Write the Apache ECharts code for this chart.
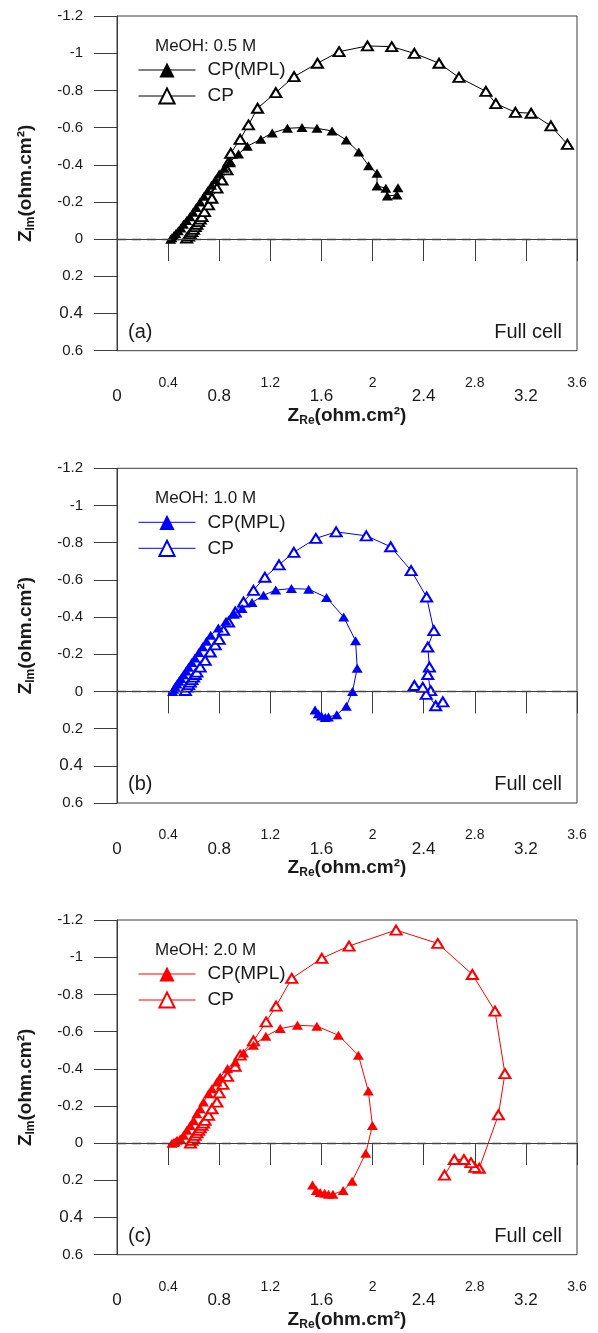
<!DOCTYPE html>
<html><head><meta charset="utf-8">
<script src="https://cdn.jsdelivr.net/npm/echarts@6/dist/echarts.min.js"></script>
<style>html,body{margin:0;padding:0;background:#fff}#c{width:598px;height:1333px}</style>
</head><body><div id="c"></div>
<script>
// ---- data ----
const xTickValues = [0, 0.4, 0.8, 1.2, 1.6, 2, 2.4, 2.8, 3.2, 3.6];
const xTickLabels = ['0', '0.4', '0.8', '1.2', '1.6', '2', '2.4', '2.8', '3.2', '3.6'];
const yTickValues = [-1.2, -1, -0.8, -0.6, -0.4, -0.2, 0, 0.2, 0.4, 0.6];
const yTickLabels = ['-1.2', '-1', '-0.8', '-0.6', '-0.4', '-0.2', '0', '0.2', '0.4', '0.6'];
const panelLabels = ['(a)', '(b)', '(c)'];
const cellLabel = 'Full cell';
const concentrations = ['MeOH: 0.5 M', 'MeOH: 1.0 M', 'MeOH: 2.0 M'];
const seriesNames = ['CP(MPL)', 'CP'];
const panelColors = ['#000000', '#0000ff', '#ff0000'];

// [Z_Re, Z_Im] in ohm.cm2
const mplA = [[0.42,0.0],[0.43,-0.008],[0.445,-0.018],[0.46,-0.03],[0.48,-0.045],[0.50,-0.06],[0.52,-0.08],[0.545,-0.10],[0.57,-0.12],[0.595,-0.145],[0.62,-0.17],[0.65,-0.20],[0.68,-0.23],[0.71,-0.26],[0.74,-0.29],[0.77,-0.32],[0.80,-0.35],[0.839,-0.381],[0.886,-0.417],[0.951,-0.458],[1.02,-0.50],[1.126,-0.537],[1.215,-0.571],[1.334,-0.596],[1.448,-0.60],[1.565,-0.596],[1.683,-0.582],[1.794,-0.533],[1.892,-0.468],[1.969,-0.395],[2.035,-0.354],[2.035,-0.286],[2.104,-0.274],[2.116,-0.232],[2.191,-0.238],[2.199,-0.277]];
const cpA = [[0.545,-0.005],[0.56,-0.017],[0.573,-0.029],[0.586,-0.040],[0.599,-0.053],[0.612,-0.067],[0.625,-0.080],[0.638,-0.094],[0.651,-0.108],[0.665,-0.121],[0.685,-0.148],[0.716,-0.184],[0.743,-0.220],[0.782,-0.274],[0.821,-0.318],[0.86,-0.372],[0.875,-0.415],[0.89,-0.462],[0.964,-0.537],[1.029,-0.614],[1.100,-0.704],[1.243,-0.788],[1.386,-0.874],[1.569,-0.946],[1.738,-1.008],[1.960,-1.039],[2.150,-1.035],[2.327,-0.999],[2.520,-0.946],[2.676,-0.870],[2.887,-0.795],[2.965,-0.729],[3.118,-0.682],[3.241,-0.677],[3.396,-0.609],[3.525,-0.510]];

const mplB = [[0.435,0.0],[0.445,-0.012],[0.455,-0.025],[0.47,-0.04],[0.485,-0.055],[0.50,-0.07],[0.52,-0.09],[0.54,-0.11],[0.56,-0.13],[0.585,-0.155],[0.61,-0.18],[0.64,-0.21],[0.67,-0.24],[0.70,-0.27],[0.733,-0.302],[0.793,-0.341],[0.853,-0.377],[0.919,-0.415],[0.979,-0.446],[1.057,-0.478],[1.147,-0.517],[1.242,-0.545],[1.365,-0.553],[1.50,-0.55],[1.64,-0.505],[1.774,-0.40],[1.867,-0.273],[1.88,-0.125],[1.843,0.0],[1.795,0.08],[1.72,0.125],[1.655,0.138],[1.63,0.14],[1.60,0.132],[1.575,0.12],[1.55,0.10]];
const cpB = [[0.535,-0.005],[0.547,-0.023],[0.56,-0.037],[0.573,-0.050],[0.586,-0.064],[0.599,-0.077],[0.612,-0.091],[0.625,-0.104],[0.651,-0.131],[0.690,-0.167],[0.730,-0.212],[0.769,-0.250],[0.800,-0.280],[0.834,-0.329],[0.873,-0.373],[0.925,-0.427],[0.990,-0.481],[1.068,-0.544],[1.157,-0.614],[1.268,-0.681],[1.384,-0.748],[1.556,-0.823],[1.715,-0.858],[1.951,-0.837],[2.142,-0.778],[2.302,-0.650],[2.423,-0.508],[2.480,-0.327],[2.432,-0.239],[2.445,-0.131],[2.432,-0.091],[2.455,-0.004],[2.42,0.016],[2.327,-0.032],[2.393,-0.022],[2.494,0.077],[2.55,0.056]];

const mplC = [[0.43,0.0],[0.445,-0.003],[0.456,-0.006],[0.47,-0.015],[0.495,-0.024],[0.521,-0.042],[0.547,-0.069],[0.573,-0.095],[0.599,-0.122],[0.625,-0.158],[0.651,-0.185],[0.677,-0.221],[0.716,-0.266],[0.743,-0.293],[0.782,-0.329],[0.808,-0.356],[0.865,-0.401],[0.925,-0.437],[0.99,-0.485],[1.068,-0.527],[1.165,-0.575],[1.277,-0.616],[1.412,-0.634],[1.564,-0.629],[1.733,-0.58],[1.889,-0.473],[1.967,-0.28],[1.999,-0.095],[1.947,0.054],[1.84,0.205],[1.77,0.255],[1.69,0.275],[1.655,0.275],[1.625,0.27],[1.59,0.265],[1.56,0.255],[1.53,0.225]];
const cpC = [[0.575,0.0],[0.586,-0.015],[0.599,-0.028],[0.612,-0.042],[0.625,-0.055],[0.638,-0.069],[0.651,-0.082],[0.664,-0.095],[0.677,-0.108],[0.690,-0.122],[0.716,-0.149],[0.743,-0.185],[0.782,-0.221],[0.800,-0.270],[0.829,-0.316],[0.865,-0.359],[0.925,-0.413],[0.964,-0.473],[1.068,-0.550],[1.167,-0.652],[1.245,-0.737],[1.368,-0.886],[1.603,-0.994],[1.816,-1.060],[2.184,-1.146],[2.510,-1.074],[2.781,-0.907],[2.958,-0.710],[3.036,-0.374],[2.985,-0.152],[2.835,0.135],[2.80,0.13],[2.77,0.105],[2.715,0.088],[2.64,0.088],[2.563,0.172]];

const panelData = [[mplA, cpA], [mplB, cpB], [mplC, cpC]];

// ---- layout ----
const FONT = '"Liberation Sans", Arial, sans-serif';
const gridTops = [16, 468.3, 920];
const gridLeft = 117, gridWidth = 460, gridHeight = 334.7;
const frameColor = '#3c3c3c', textColor = '#1a1a1a';

function tickIndex(values, v) {
  for (let i = 0; i < values.length; i++) if (Math.abs(values[i] - v) < 1e-6) return i;
  return -1;
}

const grid = [], xAxis = [], yAxis = [], series = [], legend = [], title = [];
gridTops.forEach((top, p) => {
  grid.push({left: gridLeft, top: top, width: gridWidth, height: gridHeight, show: true,
    borderColor: frameColor, borderWidth: 1, backgroundColor: 'transparent'});
  xAxis.push({
    gridIndex: p, type: 'value', min: 0, max: 3.6, interval: 0.4,
    axisLine: {show: true, lineStyle: {color: frameColor, width: 1}},
    axisTick: {show: true, inside: false, length: 22, lineStyle: {color: frameColor, width: 1}},
    splitLine: {show: false},
    axisLabel: {
      margin: 25, color: textColor, fontFamily: FONT,
      formatter: (v) => { const i = tickIndex(xTickValues, v); if (i < 0) return ''; return (i % 2 === 1 ? '{hi|' : '{lo|') + xTickLabels[i] + '}'; },
      rich: {hi: {fontSize: 14, lineHeight: 14, fontFamily: FONT, color: textColor},
             lo: {fontSize: 17, lineHeight: 42, fontFamily: FONT, color: textColor}}
    },
    name: '{b|Z}{s|Re}{b|(ohm.cm²)}', nameLocation: 'middle', nameGap: 52,
    nameTextStyle: {rich: {
      b: {fontSize: 19, fontWeight: 'bold', fontFamily: FONT, color: textColor},
      s: {fontSize: 12, fontWeight: 'bold', fontFamily: FONT, color: textColor, padding: [10, 0, 0, 0]}}}
  });
  yAxis.push({
    gridIndex: p, type: 'value', min: -1.2, max: 0.6, interval: 0.2, inverse: true,
    axisLine: {show: true, lineStyle: {color: frameColor, width: 1}},
    axisTick: {show: true, inside: false, length: 23, lineStyle: {color: frameColor, width: 1}},
    splitLine: {show: false},
    axisLabel: {
      margin: 34, color: textColor, fontFamily: FONT,
      formatter: (v) => { const i = tickIndex(yTickValues, v); if (i < 0) return ''; return (i === 8 ? '{big|' : '{n|') + yTickLabels[i] + '}'; },
      rich: {n: {fontSize: 15, fontFamily: FONT, color: textColor}, big: {fontSize: 17, fontFamily: FONT, color: textColor}}
    },
    name: '{b|Z}{s|Im}{b|(ohm.cm²)}', nameLocation: 'middle', nameGap: 80, nameRotate: 90,
    nameTextStyle: {rich: {
      b: {fontSize: 19, fontWeight: 'bold', fontFamily: FONT, color: textColor},
      s: {fontSize: 12, fontWeight: 'bold', fontFamily: FONT, color: textColor, padding: [10, 0, 0, 0]}}}
  });
  const col = panelColors[p];
  // CP (hollow) drawn first, CP(MPL) (filled) on top
  series.push({
    name: seriesNames[1], type: 'line', xAxisIndex: p, yAxisIndex: p,
    data: panelData[p][1], symbol: 'emptyTriangle', symbolSize: [11, 9], showAllSymbol: true,
    itemStyle: {color: col, borderWidth: 1}, lineStyle: {color: col, width: 1}, z: 3,
    markLine: {silent: true, symbol: 'none', label: {show: false}, animation: false,
      lineStyle: {type: [9, 6], color: '#444', width: 1.3}, data: [{yAxis: 0}]}
  });
  series.push({
    name: seriesNames[0], type: 'line', xAxisIndex: p, yAxisIndex: p,
    data: panelData[p][0], symbol: 'triangle', symbolSize: [11, 9], showAllSymbol: true,
    itemStyle: {color: col}, lineStyle: {color: col, width: 1}, z: 4
  });
  legend.push({
    orient: 'vertical', left: 138, top: top + 44.5, padding: 0,
    itemWidth: 57, itemHeight: 19, itemGap: 7, selectedMode: false,
    textStyle: {fontSize: 19, fontFamily: FONT, color: textColor, padding: [0, 0, 0, 7]},
    data: [
      {name: seriesNames[0], itemStyle: {color: col}, lineStyle: {color: col, width: 1}},
      {name: seriesNames[1], itemStyle: {color: col}, lineStyle: {color: col, width: 1}}
    ]
  });
  title.push({text: concentrations[p], left: 155, top: top + 21.5, padding: 0,
    textStyle: {fontSize: 17, fontWeight: 'normal', fontFamily: FONT, color: textColor}});
  title.push({text: panelLabels[p], left: 128, top: top + 306, padding: 0,
    textStyle: {fontSize: 20, fontWeight: 'normal', fontFamily: FONT, color: textColor}});
  title.push({text: cellLabel, right: 36, top: top + 306, padding: 0,
    textStyle: {fontSize: 20, fontWeight: 'normal', fontFamily: FONT, color: textColor}});
});

const chart = echarts.init(document.getElementById('c'), null, {renderer: 'canvas'});
chart.setOption({animation: false, backgroundColor: '#fff', grid, xAxis, yAxis, series, legend, title});
</script>
</body></html>
